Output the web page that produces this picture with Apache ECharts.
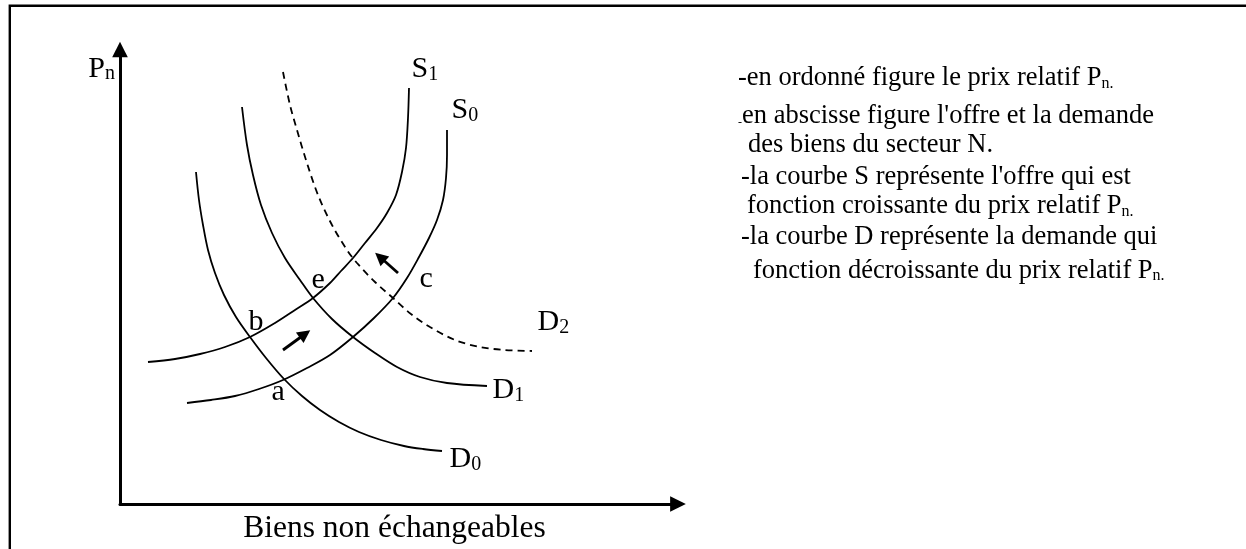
<!DOCTYPE html>
<html><head><meta charset="utf-8">
<script src="https://cdn.jsdelivr.net/npm/echarts@6/dist/echarts.min.js"></script>
<style>html,body{margin:0;padding:0;background:#fff;}#c{width:1246px;height:549px;}</style>
</head><body><div id="c"></div>
<script>
const FONT = "'Liberation Serif','Times New Roman',Times,serif";

// ---- data (diagram units: x = quantity, y = relative price) ----
const xAxisTitle = 'Biens non échangeables';
const yAxisTitle = ['P', 'n'];
const xRange = [0, 558];
const yRange = [0, 454.5];

const curveD0 = [[76,332],[79,304],[83,279],[88,254],[95,231],[104,209],[116,187],[130,167],[146,146],[164,125],[182,108],[200,94],[219,82],[239,72],[261,64],[284,58],[303,55],[322,53]];
const curveD1 = [[122,397],[127,359],[133,329],[141,299],[152,271],[165,246],[180,224],[193,206],[212,185],[233,167],[255,151],[277,137],[300,127],[327,121],[367,118]];
const curveD2 = [[163,432],[170,399],[177,374],[186,344],[198,309],[212,279],[227,254],[237,241],[255,222],[273,206],[291,190],[310,177],[335,164],[360,157],[385,154],[412,153]];
const curveS1 = [[28,142],[55,145],[80,150],[105,157],[130,167],[155,181],[175,194],[193,206],[210,221],[221,233],[233,246],[245,261],[257,276],[267,291],[276,309],[282,332],[286,356],[288,386],[289,416]];
const curveS0 = [[67,101],[91,104],[115,108],[139,115],[163,124],[187,136],[210,149],[233,167],[254,186],[273,206],[287,226],[299,247],[309,266],[317,284],[323,304],[326,326],[327,349],[327,374]];

const shiftArrows = [
  [[163,154],[185,170]],
  [[278,231],[260,247]]
];

const labelNames = ['S','S','e','c','b','a','D','D','D'];
const labelSubs  = ['1','0','','','','','2','1','0'];
const labelAnchors = [[292,434],[332,393],[192,223],[300,224],[129,181],[152,111],[418,181],[373,113],[330,44]];

const noteTexts = [
  ['', '-en ordonné figure le prix relatif P', 'n.'],
  ['-', 'en abscisse figure l\'offre et la demande', ''],
  ['', 'des biens du secteur N.', ''],
  ['', '-la courbe S représente l\'offre qui est', ''],
  ['', 'fonction croissante du prix relatif P', 'n.'],
  ['', '-la courbe D représente la demande qui', ''],
  ['', 'fonction décroissante du prix relatif P', 'n.']
];
// layout of the note lines (pixels): left, line centre, subscript line height
const noteLayout = [[738,78.5,18],[738,116,18],[748,145,18],[741,177.5,18],[747,206.5,12],[741,237.5,18],[753,271,14]];

// ---- chart ----
const chart = echarts.init(document.getElementById('c'), null, {renderer:'canvas'});

const solid = {type:'line', smooth:0.33, symbol:'none', showSymbol:false, silent:true,
  lineStyle:{color:'#000', width:1.8}, z:3};

const noteGraphics = noteTexts.map((t, i) => {
  const L = noteLayout[i];
  let txt = '';
  if (t[0]) txt += '{d|' + t[0] + '}';
  txt += '{b|' + t[1] + '}';
  if (t[2]) txt += '{s|' + t[2] + '}';
  return {
    type:'text', x:L[0], y:L[1], silent:true,
    style:{
      text:txt, align:'left', verticalAlign:'middle', fill:'#000',
      fontFamily:FONT, fontSize:26.5,
      rich:{
        b:{fontFamily:FONT, fontSize:26.5, lineHeight:26.5, fill:'#000'},
        s:{fontFamily:FONT, fontSize:16, lineHeight:L[2], verticalAlign:'bottom', fill:'#000'},
        d:{fontFamily:FONT, fontSize:12, lineHeight:6, verticalAlign:'bottom', fill:'#000'}
      }
    }
  };
});

const labelRich = {
  b:{fontFamily:FONT, fontSize:30, lineHeight:30, color:'#000', opacity:1},
  s:{fontFamily:FONT, fontSize:20, lineHeight:18, verticalAlign:'bottom', color:'#000', opacity:1}
};

chart.setOption({
  animation:false,
  backgroundColor:'#fff',
  grid:{left:120, top:49.5, right:568, bottom:45, containLabel:false, outerBoundsMode:'none'},
  xAxis:{
    type:'value', min:xRange[0], max:xRange[1],
    axisLine:{show:true, onZero:false, symbol:['none','triangle'], symbolSize:[15.6,15.7],
      lineStyle:{color:'#000', width:3}},
    axisTick:{show:false}, axisLabel:{show:false}, splitLine:{show:false},
    name:xAxisTitle, nameLocation:'middle', nameGap:9.3, nameMoveOverlap:false,
    nameTextStyle:{fontFamily:FONT, fontSize:31.5, lineHeight:31.5, color:'#000',
      align:'center', verticalAlign:'top', padding:[0,9,0,0]}
  },
  yAxis:{
    type:'value', min:yRange[0], max:yRange[1],
    axisLine:{show:true, onZero:false, symbol:['none','triangle'], symbolSize:[15.6,15.4],
      lineStyle:{color:'#000', width:3}},
    axisTick:{show:false}, axisLabel:{show:false}, splitLine:{show:false},
    name:'{b|' + yAxisTitle[0] + '}{s|' + yAxisTitle[1] + '}', nameLocation:'end', nameGap:-19.4, nameMoveOverlap:false,
    nameTextStyle:{align:'right', verticalAlign:'middle', padding:[0,5,0,0], rich:labelRich}
  },
  graphic:[
    {type:'rect', silent:true, z:-1, shape:{x:9.8, y:5.8, width:1400, height:700},
      style:{fill:'none', stroke:'#000', lineWidth:2.4}}
  ].concat(noteGraphics),
  series:[
    Object.assign({}, solid, {name:'D0', data:curveD0}),
    Object.assign({}, solid, {name:'D1', data:curveD1}),
    Object.assign({}, solid, {name:'S0', data:curveS0}),
    Object.assign({}, solid, {name:'S1', data:curveS1}),
    Object.assign({}, solid, {name:'D2', data:curveD2, lineStyle:{color:'#000', width:1.8, type:[7,5]}}),
    {type:'lines', coordinateSystem:'cartesian2d', silent:true, z:4,
      symbol:['none','triangle'], symbolSize:13,
      lineStyle:{color:'#000', width:2.8, opacity:1, curveness:0},
      data:shiftArrows.map(a => ({coords:a}))},
    {type:'scatter', silent:true, clip:false, z:5, symbolSize:1,
      itemStyle:{color:'#fff', opacity:0},
      data:labelAnchors.map((p, i) => ({value:p, name:labelNames[i], sub:labelSubs[i]})),
      label:{show:true, position:[0,0], align:'left', verticalAlign:'middle',
        color:'#000', opacity:1, textBorderWidth:0,
        formatter:p => '{b|' + p.data.name + '}' + (p.data.sub ? '{s|' + p.data.sub + '}' : ''),
        rich:labelRich}}
  ]
});
</script></body></html>
